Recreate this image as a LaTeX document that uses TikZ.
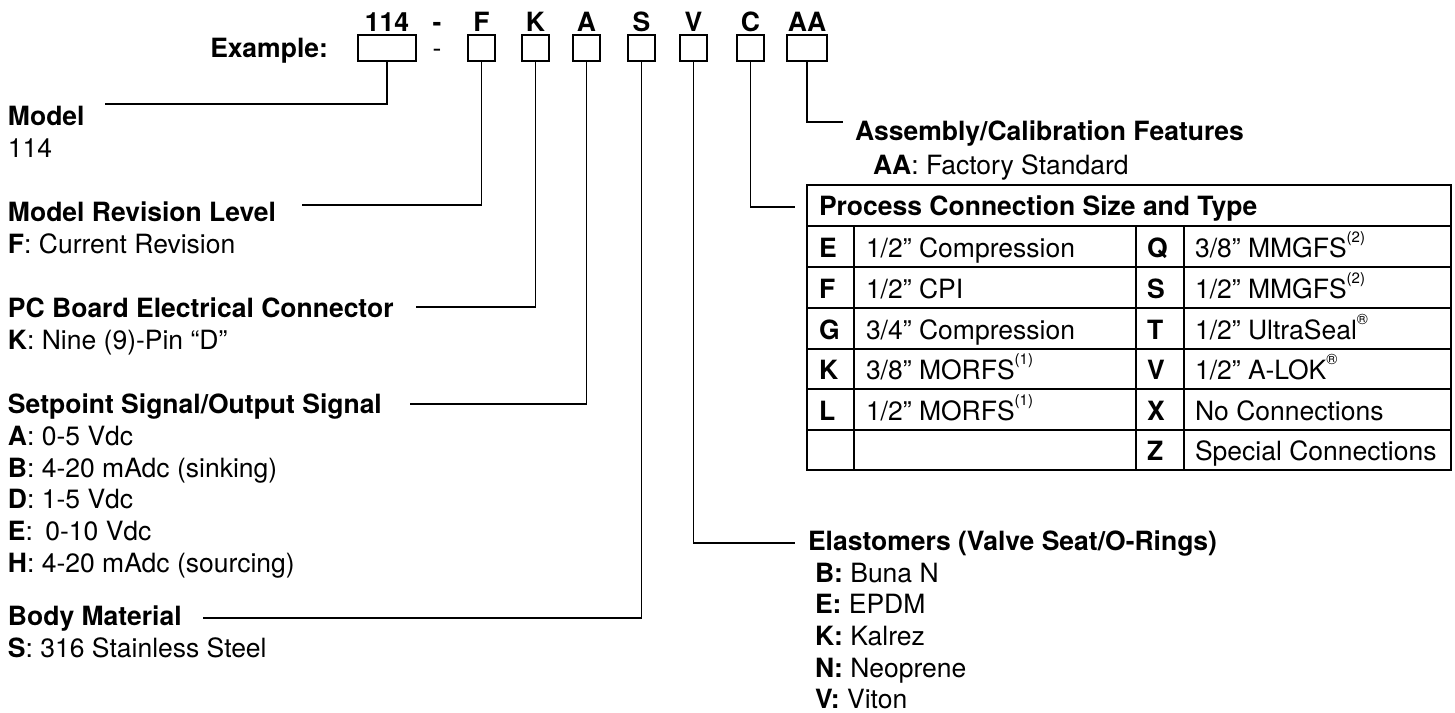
\documentclass[tikz,border=0pt]{standalone}
\usepackage{fontspec}
\setmainfont{TeX Gyre Heros}
\newcommand{\mysup}[1]{\raisebox{0.55em}{\fontsize{15}{15}\selectfont #1}}
\begin{document}
\begin{tikzpicture}[x=1pt,y=-1pt,
  txt/.style={inner sep=0pt,outer sep=0pt,anchor=base west,font=\fontsize{26.5}{31}\selectfont},
  hd/.style={txt,font=\fontsize{26.5}{31}\selectfont\bfseries},
  codebox/.style={draw,line width=2.2pt,inner sep=0pt,outer sep=0pt,minimum height=26pt,minimum width=27pt},
  conn/.style={line width=1.6pt},
  grid/.style={line width=2pt},
]
\useasboundingbox (0,0) rectangle (1455,712);

% code boxes
\node[codebox,minimum width=58pt] (b114) at (387,48) {};
\node[codebox] (bF) at (481.5,48) {};
\node[codebox] (bK) at (535.5,48) {};
\node[codebox] (bA) at (586.5,48) {};
\node[codebox] (bS) at (641.5,48) {};
\node[codebox] (bV) at (693.5,48) {};
\node[codebox] (bC) at (750.5,48) {};
\node[codebox,minimum width=40pt] (bAA) at (807,48) {};

% code labels
\node[hd,anchor=base] (l114) at (387,31) {114};
\node[hd,anchor=base] (ldash) at (437,31) {-};
\node[hd,anchor=base] (lF) at (481.5,31) {F};
\node[hd,anchor=base] (lK) at (535.5,31) {K};
\node[hd,anchor=base] (lA) at (586.5,31) {A};
\node[hd,anchor=base] (lS) at (641.5,31) {S};
\node[hd,anchor=base] (lV) at (693.5,31) {V};
\node[hd,anchor=base] (lC) at (750.5,31) {C};
\node[hd,anchor=base] (lAA) at (807,31) {AA};

\node[hd,anchor=base east] (ex) at (328,57) {Example:};
\node[txt,anchor=base] (dash) at (437,57) {-};

% left column
\node[hd] (hModel) at (8,125) {Model};
\node[txt] (vModel) at (8,157) {114};
\node[hd] (hRev) at (8,221) {Model Revision Level};
\node[txt] (vRev) at (8,253) {\textbf{F}: Current Revision};
\node[hd] (hPC) at (8,317) {PC Board Electrical Connector};
\node[txt] (vPC) at (8,349) {\textbf{K}: Nine (9)-Pin “D”};
\node[hd] (hSP) at (8,413) {Setpoint Signal/Output Signal};
\node[txt] (vSP1) at (8,445) {\textbf{A}: 0-5 Vdc};
\node[txt] (vSP2) at (8,477) {\textbf{B}: 4-20 mAdc (sinking)};
\node[txt] (vSP3) at (8,508) {\textbf{D}: 1-5 Vdc};
\node[txt] (vSP4) at (8,540) {\textbf{E}:\hspace{5pt} 0-10 Vdc};
\node[txt] (vSP5) at (8,572) {\textbf{H}: 4-20 mAdc (sourcing)};
\node[hd] (hBody) at (8,625) {Body Material};
\node[txt] (vBody) at (8,657) {\textbf{S}: 316 Stainless Steel};

% right column
\node[hd] (hAA) at (855,140) {Assembly/Calibration Features};
\node[txt] (vAA) at (873,174) {\textbf{AA}: Factory Standard};
\node[hd] (hV) at (808,550) {Elastomers (Valve Seat/O-Rings)};
\node[txt] (vV1) at (815,582) {\textbf{B:} Buna N};
\node[txt] (vV2) at (815,613) {\textbf{E:} EPDM};
\node[txt] (vV3) at (815,645) {\textbf{K:} Kalrez};
\node[txt] (vV4) at (815,677) {\textbf{N:} Neoprene};
\node[txt] (vV5) at (815,708) {\textbf{V:} Viton};

% connector ends
\coordinate (eModel) at (105,104);
\coordinate (eRev) at (302,205);
\coordinate (ePC) at (416,307);
\coordinate (eSP) at (410,404);
\coordinate (eBody) at (203,618);
\coordinate (eAA) at (843,122);
\coordinate (eC) at (795,207);
\coordinate (eV) at (795,543);

\draw[conn] (b114.south) |- (eModel);
\draw[conn] (bF.south) |- (eRev);
\draw[conn] (bK.south) |- (ePC);
\draw[conn] (bA.south) |- (eSP);
\draw[conn] (bS.south) |- (eBody);
\draw[conn] (bAA.south) |- (eAA);
\draw[conn] (bC.south) |- (eC);
\draw[conn] (bV.south) |- (eV);

% table
\draw[grid] (807,185) rectangle (1451,470);
\foreach \yy in {226,267,308,349,389,430} \draw[grid] (807,\yy) -- (1451,\yy);
\foreach \xx in {854,1136,1184} \draw[grid] (\xx,226) -- (\xx,470);

\node[hd] (th) at (819,215) {Process Connection Size and Type};
\node[hd] (k1) at (819,257) {E};
\node[txt] (d1) at (866,257) {1/2” Compression};
\node[hd] (k2) at (819,298) {F};
\node[txt] (d2) at (866,298) {1/2” CPI};
\node[hd] (k3) at (819,339) {G};
\node[txt] (d3) at (866,339) {3/4” Compression};
\node[hd] (k4) at (819,379) {K};
\node[txt] (d4) at (866,379) {3/8” MORFS\mysup{(1)}};
\node[hd] (k5) at (819,420) {L};
\node[txt] (d5) at (866,420) {1/2” MORFS\mysup{(1)}};
\node[hd] (q1) at (1147,257) {Q};
\node[txt] (r1) at (1195,257) {3/8” MMGFS\mysup{(2)}};
\node[hd] (q2) at (1147,298) {S};
\node[txt] (r2) at (1195,298) {1/2” MMGFS\mysup{(2)}};
\node[hd] (q3) at (1147,339) {T};
\node[txt] (r3) at (1195,339) {1/2” UltraSeal\mysup{®}};
\node[hd] (q4) at (1147,379) {V};
\node[txt] (r4) at (1195,379) {1/2” A-LOK\mysup{®}};
\node[hd] (q5) at (1147,420) {X};
\node[txt] (r5) at (1195,420) {No Connections};
\node[hd] (q6) at (1147,460) {Z};
\node[txt] (r6) at (1195,460) {Special Connections};
\end{tikzpicture}
\end{document}
